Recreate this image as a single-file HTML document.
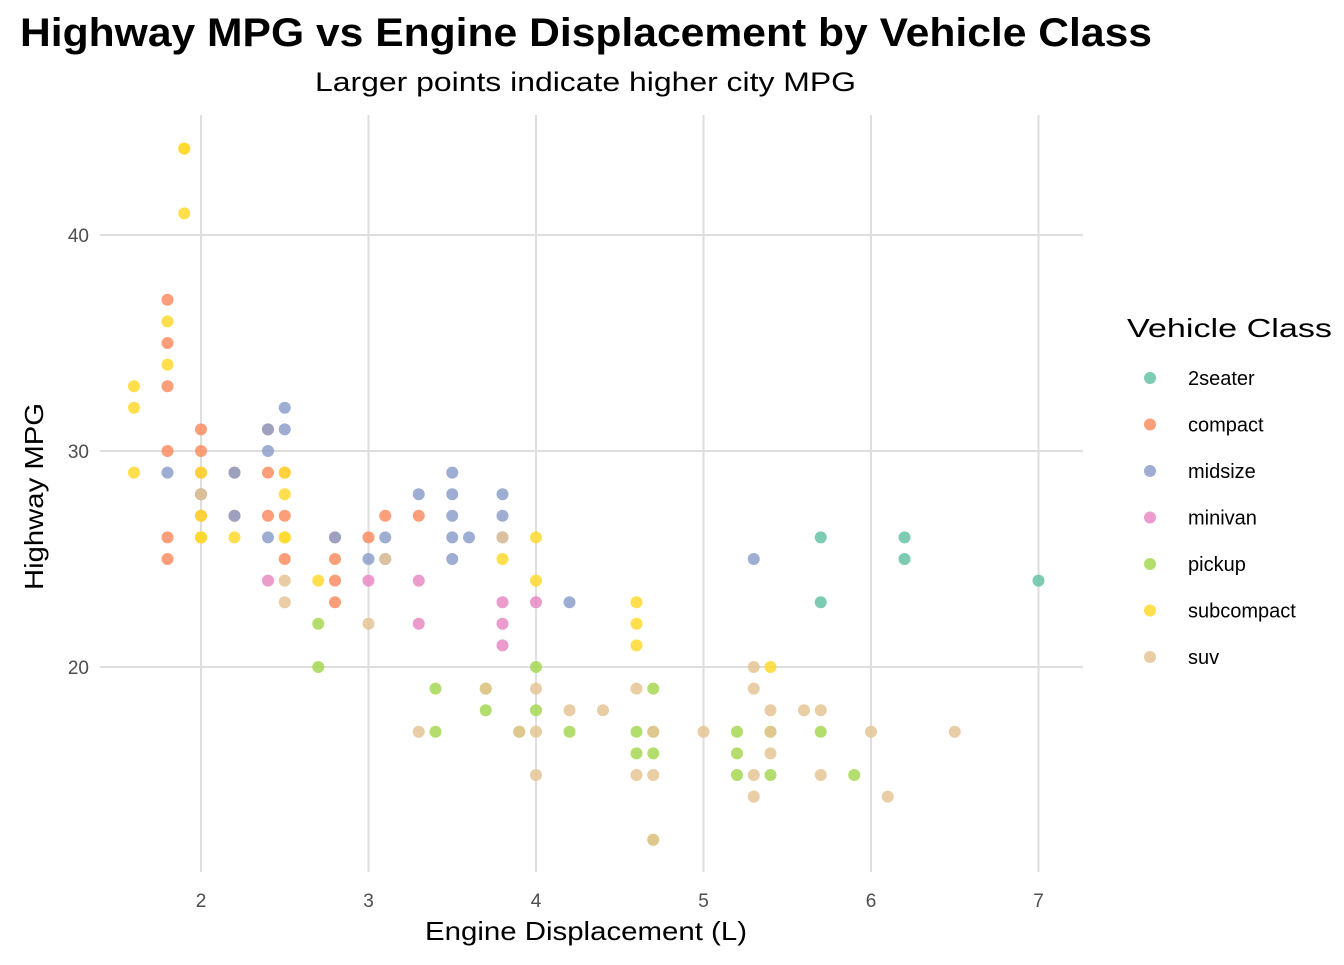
<!DOCTYPE html>
<html><head><meta charset="utf-8"><style>
body{margin:0;background:#fff;font-family:"Liberation Sans",Arial,sans-serif}
</style></head><body>
<svg id="chart" width="1344" height="960" xmlns="http://www.w3.org/2000/svg">
<text x="20" y="46" font-size="40" font-weight="bold" fill="#000" textLength="1132" lengthAdjust="spacingAndGlyphs">Highway MPG vs Engine Displacement by Vehicle Class</text>
<text x="315" y="91" font-size="27" fill="#000" textLength="541" lengthAdjust="spacingAndGlyphs">Larger points indicate higher city MPG</text>
<g id="grid"></g><g id="pts"></g><g id="ticks"></g>
<text x="425" y="940" font-size="26" textLength="322" lengthAdjust="spacingAndGlyphs">Engine Displacement (L)</text>
<text transform="translate(43,590) rotate(-90)" font-size="26" textLength="187" lengthAdjust="spacingAndGlyphs">Highway MPG</text>
<text x="1127" y="337" font-size="26" textLength="205" lengthAdjust="spacingAndGlyphs">Vehicle Class</text>
<g id="legend"></g>
</svg>
<script>
const classes=["2seater","compact","midsize","minivan","pickup","subcompact","suv"];
const colors=["#66C2A5","#FC8D62","#8DA0CB","#E78AC3","#A6D854","#FFD92F","#E5C494"];
const xTicks=[2,3,4,5,6,7];
const yTicks=[20,30,40];
const displ={
"2seater":[5.7,5.7,6.2,6.2,7],
"compact":[1.8,1.8,1.8,1.8,1.8,1.8,2,2,2,2,2,2,2.2,2.2,2.4,2.4,2.4,2.5,2.5,2.5,2.8,2.8,2.8,2.8,3,3.1,3.3],
"midsize":[1.8,2.4,2.4,2.4,2.5,2.5,2.8,3,3.1,3.1,3.3,3.5,3.5,3.5,3.5,3.5,3.6,3.8,3.8,3.8,4.2,5.3,2.2,2.2,2],
"minivan":[2.4,3,3.3,3.3,3.8,3.8,3.8,4],
"pickup":[2.7,2.7,3.4,3.4,3.7,3.7,3.9,4,4,4.2,4.6,4.6,4.7,4.7,4.7,4.7,5.2,5.2,5.2,5.4,5.4,5.7,5.9],
"subcompact":[1.6,1.6,1.6,1.8,1.8,1.9,1.9,2,2,2,2.2,2.5,2.5,2.5,2.7,3.8,4,4,4.6,4.6,4.6,5.4,1.9,2,2.5],
"suv":[2.5,2.5,2,3,3.3,3.7,3.9,4,4,4,4.2,4.4,4.6,4.6,4.7,4.7,4.7,5,5.3,5.3,5.3,5.3,5.4,5.4,5.4,5.6,5.7,5.7,6,6.1,6.5,3.8,3.1]};
const hwy={
"2seater":[26,23,26,25,24],
"compact":[37,35,33,30,26,25,31,30,29,28,27,26,29,27,31,29,27,29,27,25,26,25,24,23,26,27,27],
"midsize":[29,30,26,31,32,31,26,25,26,25,28,29,28,27,26,25,26,28,27,26,23,25,29,27,28],
"minivan":[24,24,24,22,23,22,21,23],
"pickup":[22,20,19,17,18,19,17,20,18,17,17,16,19,17,16,12,17,16,15,17,15,17,15],
"subcompact":[33,32,29,36,34,44,41,29,27,26,26,29,28,26,24,25,26,24,23,22,21,20,44,26,26],
"suv":[24,23,28,22,17,19,17,19,17,15,18,18,19,15,17,15,12,17,20,19,15,14,18,17,16,18,18,15,17,14,17,26,25]};
const X=v=>201+(v-2)*167.5, Y=v=>667-(v-20)*21.6;
const NS="http://www.w3.org/2000/svg";
const g=document.getElementById('grid'),t=document.getElementById('ticks'),p=document.getElementById('pts'),lg=document.getElementById('legend');
function mk(tag,at,par){const e=document.createElementNS(NS,tag);for(const k in at)e.setAttribute(k,at[k]);par.appendChild(e);return e;}
xTicks.forEach(v=>{const l=mk('line',{x1:X(v),x2:X(v),y1:115,y2:872,stroke:'#dedede','stroke-width':2},g);


const tx=mk('text',{x:X(v),y:907,'font-size':19,'text-anchor':'middle',fill:'#4d4d4d'},t);tx.textContent=v;

});
yTicks.forEach(v=>{const l=mk('line',{x1:100,x2:1083,y1:Y(v),y2:Y(v),stroke:'#dedede','stroke-width':2},g);


const tx=mk('text',{x:89,y:Y(v)+7,'font-size':19,'text-anchor':'end',fill:'#4d4d4d'},t);tx.textContent=v;

});
classes.forEach((c,i)=>{displ[c].forEach((d,j)=>{const e=mk('circle',{cx:X(d),cy:Y(hwy[c][j]),r:6,fill:colors[i],'fill-opacity':0.85},p);

});
const y=378+i*46.5;
const dot=mk('circle',{cx:1150,cy:y,r:6,fill:colors[i],'fill-opacity':0.85},lg);


const tx=mk('text',{x:1188,y:y+7,'font-size':20},lg);tx.textContent=c;

});
</script>
</body></html>
